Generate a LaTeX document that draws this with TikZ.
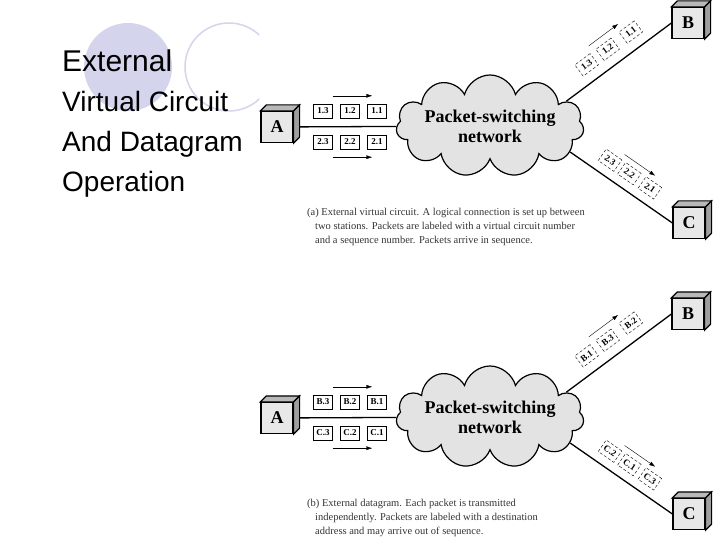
\documentclass[tikz,border=0pt]{standalone}
\usepackage{fontspec}
\setmainfont{Liberation Serif}
\newfontfamily\slidefont{Liberation Sans}
\usetikzlibrary{shapes.symbols,calc,arrows.meta}
\definecolor{deco}{RGB}{212,212,236}
\tikzset{
  station/.style={draw,line width=1.2pt,fill=gray!18,minimum width=32pt,minimum height=31pt,
    inner sep=0pt,font=\bfseries\fontsize{18}{18}\selectfont},
  packet/.style={draw,fill=white,minimum width=19pt,minimum height=14pt,inner sep=0pt,
    font=\bfseries\fontsize{9}{9}\selectfont},
  tpacket/.style={packet,densely dashed,thin},
  link/.style={line width=1.3pt},
  flow/.style={-{Latex[length=6pt,width=4pt]}},
  netcloud/.style={cloud,cloud puffs=11,cloud ignores aspect,draw,line width=1.2pt,fill=gray!22,
    minimum width=184pt,minimum height=102pt,inner sep=0pt,align=center,
    font=\bfseries\fontsize{18}{20}\selectfont},
  slide/.style={anchor=base west,inner sep=0pt,font=\slidefont\fontsize{28}{28}\selectfont},
  caption/.style={anchor=north west,inner sep=0pt,align=left,text=black!80,
    font=\fontsize{10.5}{14}\selectfont}
}
% Seiten- und Deckflaeche einer Station
\newcommand\cubefaces[1]{%
  \filldraw[line width=1.2pt,fill=gray!55] (#1.north west) -- ++(6,-6) -- ([shift={(6,-6)}]#1.north east) -- (#1.north east) -- cycle;
  \filldraw[line width=1.2pt,fill=gray!75] (#1.north east) -- ++(6,-6) -- ([shift={(6,-6)}]#1.south east) -- (#1.south east) -- cycle;
}
\begin{document}
\begin{tikzpicture}[x=1pt,y=-1pt]
  \useasboundingbox (0,0) rectangle (720,540);
  % Kreise
  \fill[deco] (128,67) circle (44);
  \begin{scope}
    \clip (0,0) rectangle (259,540);
    \draw[deco,line width=1.5pt] (229,67) circle (44);
  \end{scope}
  % Titel
  \node[slide,font=\slidefont\fontsize{30}{30}\selectfont] (title) at (62,72) {External};
  \node[slide] (line1) at (62,112) {Virtual Circuit};
  \node[slide] (line2) at (62,152) {And Datagram};
  \node[slide] (line3) at (62,192) {Operation};

  % (a) virtuelle Verbindung
  \node[station] (A1) at (277,127) {A};
  \node[station] (B1) at (688,23) {B};
  \node[station] (C1) at (689,223) {C};
  \node[netcloud] (net1) at (490,126) {Packet-switching\\network};
  \draw[link] (A1) -- (net1);
  \draw[link] (net1.18) -- (B1.west);
  \draw[link] (net1.-18) -- (C1.west);
  \cubefaces{A1}
  \cubefaces{B1}
  \cubefaces{C1}
  % Pakete
  \foreach \lbl [count=\i] in {1.3,1.2,1.1}
    \node[packet] (pa\i) at ({296+27*\i},111) {\lbl};
  \foreach \lbl [count=\i] in {2.3,2.2,2.1}
    \node[packet] (pb\i) at ({296+27*\i},142) {\lbl};
  \draw[flow] ([shift={(0,-8)}]pa1.north east) -- ([shift={(5,-8)}]pa3.north west);
  \draw[flow] ([shift={(0,8)}]pb1.south east) -- ([shift={(5,8)}]pb3.south west);
  \path ($(net1.18)!17pt!90:(B1.west)$) -- ($(B1.west)!17pt!-90:(net1.18)$)
    node[tpacket,sloped,pos=.29] (qa1) {1.3}
    node[tpacket,sloped,pos=.49] (qa2) {1.2}
    node[tpacket,sloped,pos=.71] (qa3) {1.1};
  \path ($(net1.18)!31pt!90:(B1.west)$) -- ($(B1.west)!31pt!-90:(net1.18)$)
    coordinate[pos=.39] (ra1) coordinate[pos=.67] (ra2);
  \draw[flow] (ra1) -- (ra2);
  \path ($(net1.-18)!16pt!90:(C1.west)$) -- ($(C1.west)!16pt!-90:(net1.-18)$)
    node[tpacket,sloped,pos=.30] (qb1) {2.3}
    node[tpacket,sloped,pos=.49] (qb2) {2.2}
    node[tpacket,sloped,pos=.69] (qb3) {2.1};
  \path ($(net1.-18)!29pt!90:(C1.west)$) -- ($(C1.west)!29pt!-90:(net1.-18)$)
    coordinate[pos=.37] (rb1) coordinate[pos=.67] (rb2);
  \draw[flow] (rb1) -- (rb2);
  \node[caption] (capa) at (307,208) {(a) External virtual circuit. A logical connection is set up between\\
    \hspace*{8pt}two stations. Packets are labeled with a virtual circuit number\\
    \hspace*{8pt}and a sequence number. Packets arrive in sequence.};

  % (b) Datagramm
  \begin{scope}[yshift=-291pt]
    \node[station] (A2) at (277,127) {A};
    \node[station] (B2) at (688,23) {B};
    \node[station] (C2) at (689,223) {C};
    \node[netcloud] (net2) at (490,126) {Packet-switching\\network};
    \draw[link] (A2) -- (net2);
    \draw[link] (net2.18) -- (B2.west);
    \draw[link] (net2.-18) -- (C2.west);
    \cubefaces{A2}
    \cubefaces{B2}
    \cubefaces{C2}
    % Pakete
    \foreach \lbl [count=\i] in {B.3,B.2,B.1}
      \node[packet] (pc\i) at ({296+27*\i},111) {\lbl};
    \foreach \lbl [count=\i] in {C.3,C.2,C.1}
      \node[packet] (pd\i) at ({296+27*\i},142) {\lbl};
    \draw[flow] ([shift={(0,-8)}]pc1.north east) -- ([shift={(5,-8)}]pc3.north west);
    \draw[flow] ([shift={(0,8)}]pd1.south east) -- ([shift={(5,8)}]pd3.south west);
    \path ($(net2.18)!17pt!90:(B2.west)$) -- ($(B2.west)!17pt!-90:(net2.18)$)
      node[tpacket,sloped,pos=.29] (qc1) {B.1}
      node[tpacket,sloped,pos=.49] (qc2) {B.3}
      node[tpacket,sloped,pos=.71] (qc3) {B.2};
    \path ($(net2.18)!31pt!90:(B2.west)$) -- ($(B2.west)!31pt!-90:(net2.18)$)
      coordinate[pos=.39] (rc1) coordinate[pos=.67] (rc2);
    \draw[flow] (rc1) -- (rc2);
    \path ($(net2.-18)!16pt!90:(C2.west)$) -- ($(C2.west)!16pt!-90:(net2.-18)$)
      node[tpacket,sloped,pos=.30] (qd1) {C.2}
      node[tpacket,sloped,pos=.49] (qd2) {C.1}
      node[tpacket,sloped,pos=.69] (qd3) {C.3};
    \path ($(net2.-18)!29pt!90:(C2.west)$) -- ($(C2.west)!29pt!-90:(net2.-18)$)
      coordinate[pos=.37] (rd1) coordinate[pos=.67] (rd2);
    \draw[flow] (rd1) -- (rd2);
    \node[caption] (capb) at (307,208) {(b) External datagram. Each packet is transmitted\\
      \hspace*{8pt}independently. Packets are labeled with a destination\\
      \hspace*{8pt}address and may arrive out of sequence.};
  \end{scope}
\end{tikzpicture}
\end{document}
